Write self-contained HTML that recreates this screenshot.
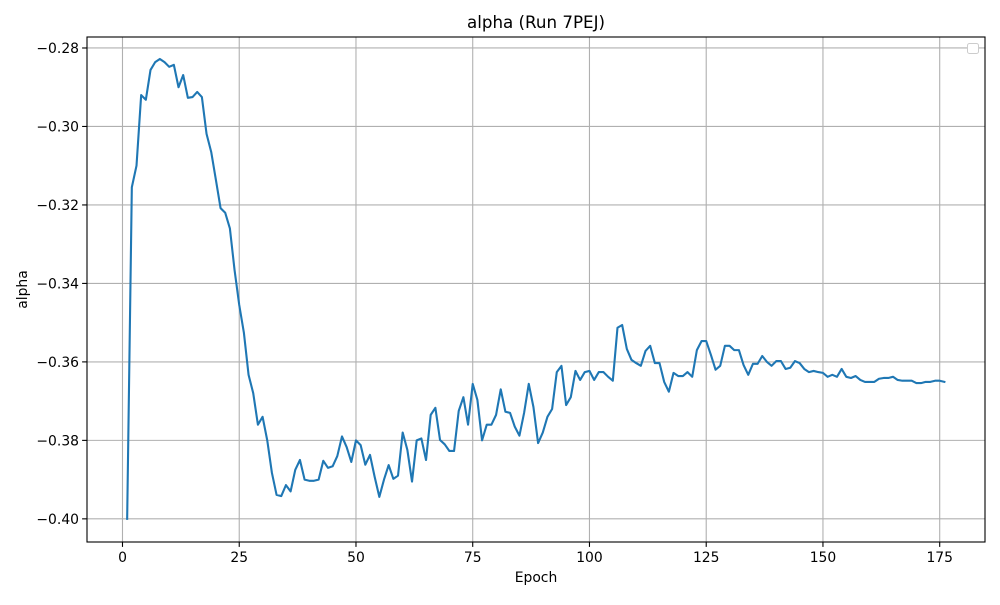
<!DOCTYPE html>
<html><head><meta charset="utf-8"><style>
body{margin:0;background:#fff;font-family:"Liberation Sans","DejaVu Sans",sans-serif}
svg text{font-family:"DejaVu Sans","Liberation Sans",sans-serif;fill:#000}
</style></head><body>
<svg id="chart" width="1000" height="600" xmlns="http://www.w3.org/2000/svg"></svg>
<script>
const epochs = Array.from({length:176},(_,i)=>i+1);
const alphaValues = [-0.400,-0.3155,-0.310,-0.292,-0.2932,-0.2856,-0.2836,-0.2828,-0.2836,-0.2848,-0.2843,-0.290,-0.2869,-0.2927,-0.2925,-0.2912,-0.2925,-0.3019,-0.3065,-0.3136,-0.3208,-0.322,-0.326,-0.3366,-0.3455,-0.3526,-0.3633,-0.368,-0.376,-0.374,-0.380,-0.3883,-0.3939,-0.3942,-0.3914,-0.393,-0.3875,-0.385,-0.390,-0.3903,-0.3903,-0.390,-0.3852,-0.387,-0.3866,-0.384,-0.379,-0.3817,-0.3855,-0.380,-0.3812,-0.3862,-0.3837,-0.3893,-0.3944,-0.390,-0.3863,-0.3898,-0.389,-0.378,-0.3824,-0.3905,-0.380,-0.3795,-0.385,-0.3735,-0.3717,-0.3799,-0.381,-0.3827,-0.3827,-0.3725,-0.369,-0.376,-0.3656,-0.3697,-0.380,-0.376,-0.376,-0.3735,-0.367,-0.3727,-0.373,-0.3765,-0.3788,-0.373,-0.3656,-0.3715,-0.3807,-0.378,-0.374,-0.372,-0.3626,-0.361,-0.371,-0.369,-0.3623,-0.3646,-0.3626,-0.3623,-0.3646,-0.3626,-0.3626,-0.3638,-0.3648,-0.3513,-0.3506,-0.3567,-0.3595,-0.3603,-0.361,-0.3572,-0.3559,-0.3603,-0.3603,-0.3651,-0.3676,-0.3628,-0.3636,-0.3636,-0.3626,-0.3638,-0.357,-0.3547,-0.3547,-0.3582,-0.362,-0.361,-0.3559,-0.3559,-0.357,-0.357,-0.3608,-0.3633,-0.3605,-0.3605,-0.3585,-0.360,-0.361,-0.3598,-0.3598,-0.3618,-0.3615,-0.3598,-0.3603,-0.3618,-0.3626,-0.3623,-0.3626,-0.3628,-0.3638,-0.3633,-0.3638,-0.3618,-0.3638,-0.3641,-0.3636,-0.3646,-0.3651,-0.3651,-0.3651,-0.3643,-0.3641,-0.3641,-0.3638,-0.3646,-0.3648,-0.3648,-0.3648,-0.3654,-0.3654,-0.3651,-0.3651,-0.3648,-0.3648,-0.3651];
const xTicks = [0,25,50,75,100,125,150,175];
const yTicks = [-0.28,-0.30,-0.32,-0.34,-0.36,-0.38,-0.40];
const yTickLabels = ["−0.28","−0.30","−0.32","−0.34","−0.36","−0.38","−0.40"];

const L=87,R=985,T=37,B=542;
const xMin=-7.6,xMax=184.7,yMin=-0.4059,yMax=-0.2772;
const xs=v=>L+(v-xMin)/(xMax-xMin)*(R-L);
const ys=v=>B-(v-yMin)/(yMax-yMin)*(B-T);
const svg=document.getElementById('chart');
const NS='http://www.w3.org/2000/svg';
function mk(tag,attrs,parent){const e=document.createElementNS(NS,tag);for(const k in attrs)e.setAttribute(k,attrs[k]);(parent||svg).appendChild(e);return e;}

const grid=mk('g',{});


xTicks.forEach(t=>{const l=mk('line',{x1:xs(t),x2:xs(t),y1:T,y2:B,stroke:'#b0b0b0','stroke-width':1.1},grid);

});
yTicks.forEach(t=>{const l=mk('line',{x1:L,x2:R,y1:ys(t),y2:ys(t),stroke:'#b0b0b0','stroke-width':1.1},grid);

});

const xa=mk('g',{});


xTicks.forEach(t=>{mk('line',{x1:xs(t),x2:xs(t),y1:B,y2:B+4.9,stroke:'#000','stroke-width':1.1},xa);
const tx=mk('text',{x:xs(t),y:B+20,'text-anchor':'middle','font-size':13.9},xa);tx.textContent=t;

});
const ya=mk('g',{});


yTicks.forEach((t,i)=>{mk('line',{x1:L-4.9,x2:L,y1:ys(t),y2:ys(t),stroke:'#000','stroke-width':1.1},ya);
const tx=mk('text',{x:L-8,y:ys(t)+5,'text-anchor':'end','font-size':13.9},ya);tx.textContent=yTickLabels[i];

});

const line=mk('polyline',{points:epochs.map((e,i)=>xs(e)+','+ys(alphaValues[i])).join(' '),fill:'none',stroke:'#1f77b4','stroke-width':2.1,'stroke-linejoin':'round','stroke-linecap':'square'});



const frame=mk('rect',{x:L,y:T,width:R-L,height:B-T,fill:'none',stroke:'#000','stroke-width':1.1});



const lg=mk('rect',{x:967.5,y:43.5,width:11,height:10,rx:2,fill:'#fff',stroke:'#ccc','stroke-width':1});



const title=mk('text',{x:(L+R)/2,y:28,'text-anchor':'middle','font-size':16.7});title.textContent='alpha (Run 7PEJ)';


const xt=mk('text',{x:(L+R)/2,y:582,'text-anchor':'middle','font-size':13.9});xt.textContent='Epoch';


const yt=mk('text',{x:27,y:(T+B)/2,'text-anchor':'middle','font-size':13.9,transform:'rotate(-90 27 '+((T+B)/2)+')'});yt.textContent='alpha';


</script>
</body></html>
